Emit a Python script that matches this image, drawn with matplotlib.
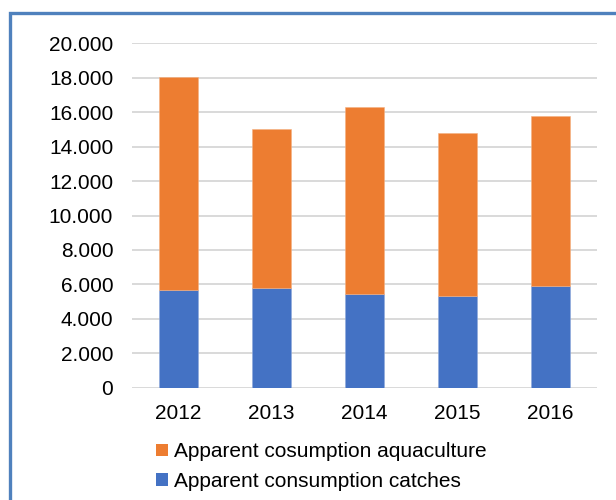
# Stacked bars: apparent consumption, catches vs aquaculture

import matplotlib
matplotlib.use("Agg")
import matplotlib.pyplot as plt
from matplotlib.patches import Patch, Rectangle
from matplotlib.ticker import FuncFormatter

years = ["2012", "2013", "2014", "2015", "2016"]
catches = [5700, 5800, 5450, 5350, 5900]
aquaculture = [12350, 9250, 10850, 9450, 9850]

label_aqua = "Apparent cosumption aquaculture"
label_catch = "Apparent consumption catches"

blue = "#4472C4"
orange = "#ED7D31"
grid_grey = "#D9D9D9"

plt.rcParams["font.family"] = ["Liberation Sans", "DejaVu Sans"]
plt.rcParams["font.size"] = 15

W, H = 616, 500
fig = plt.figure(figsize=(W / 100, H / 100), dpi=100)

# plot area in pixel terms
left, right, top, bottom = 132, 597, 43.3, 387.7
ax = fig.add_axes([left / W, 1 - bottom / H, (right - left) / W, (bottom - top) / H])

x = list(range(len(years)))
ax.bar(x, catches, width=0.41, color=blue, edgecolor="#8EA9DB", linewidth=0.4, zorder=3)
ax.bar(x, aquaculture, bottom=catches, width=0.41, color=orange,
       edgecolor="#F4B183", linewidth=0.4, zorder=3)

ax.set_xlim(-0.5, len(years) - 0.5)
ax.set_ylim(0, 20000)
ax.set_yticks(range(0, 20001, 2000))
ax.yaxis.set_major_formatter(FuncFormatter(lambda v, _: f"{v:,.0f}".replace(",", ".")))
ax.set_xticks(x)
ax.set_xticklabels(years)
ax.tick_params(axis="y", length=0, pad=13.5, colors="black")
ax.tick_params(axis="x", length=0, pad=12, colors="black")

ax.grid(axis="y", color=grid_grey, linewidth=1.4, zorder=0)
for s in ax.spines.values():
    s.set_visible(False)

handles = [Patch(facecolor=orange, label=label_aqua),
           Patch(facecolor=blue, label=label_catch)]
fig.legend(handles=handles, loc="upper left",
           bbox_to_anchor=(150 / W, 1 - 436 / H),
           frameon=False, handlelength=0.55, handleheight=0.55,
           handletextpad=0.3, labelspacing=0.5, borderaxespad=0,
           borderpad=0.3)

# chart border, cut off at the right and bottom edges
fig.patches.append(Rectangle((10 / W, -0.1), 1.2, 1 - 13 / H + 0.1,
                             transform=fig.transFigure, fill=False,
                             edgecolor="#4F81BD", linewidth=2.4))

fig.savefig("out.png", dpi=100)
